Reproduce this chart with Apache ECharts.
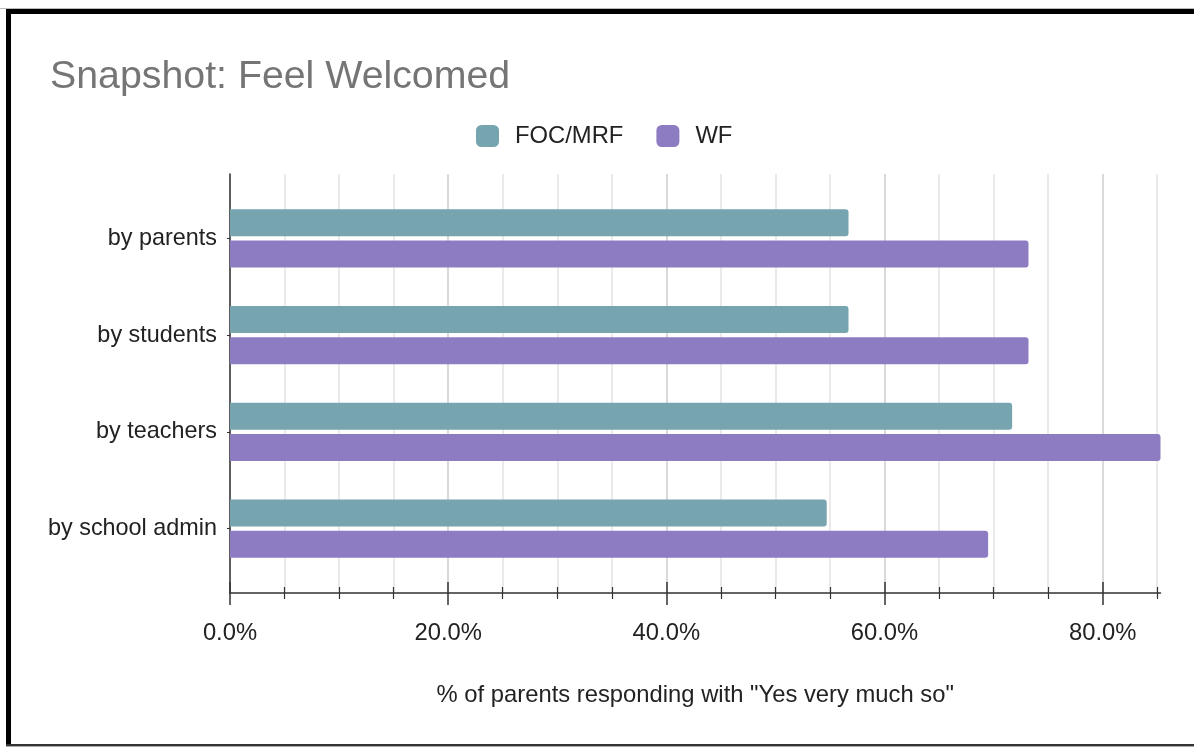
<!DOCTYPE html>
<html>
<head>
<meta charset="utf-8">
<script src="https://cdn.jsdelivr.net/npm/echarts@6/dist/echarts.min.js"></script>
<style>
html,body{margin:0;padding:0;background:#fff;}
#chart{width:1194px;height:747px;}
</style>
</head>
<body>
<div id="chart"></div>
<script>
// ---- data ----
const categories = ['by parents', 'by students', 'by teachers', 'by school admin'];
const seriesNames = ['FOC/MRF', 'WF'];
const focValues = [56.7, 56.7, 71.7, 54.7];
const wfValues = [73.2, 73.2, 85.3, 69.5];
const majorTicks = [0, 20, 40, 60, 80];
const minorTicks = [5, 10, 15, 25, 30, 35, 45, 50, 55, 65, 70, 75, 85];
const titleText = 'Snapshot: Feel Welcomed';
const axisTitle = '% of parents responding with "Yes very much so"';

const axisMax = Math.max(...focValues, ...wfValues);
const FONT = '"Liberation Sans", Arial, sans-serif';
const TXT = '#222222';
const FS = 23.8;

const chart = echarts.init(document.getElementById('chart'), null, {renderer: 'canvas'});

const gridA = {left: 230, top: 190, width: 930.5, height: 387};
const gridB = {left: 230, top: 174, width: 930.5, height: 419};

const option = {
  animation: false,
  backgroundColor: '#ffffff',
  textStyle: {fontFamily: FONT},
  title: {
    text: titleText,
    left: 45, top: 53, padding: 5,
    textStyle: {fontFamily: FONT, fontSize: 39.3, fontWeight: 'normal', color: '#757575'}
  },
  legend: {
    data: seriesNames,
    left: 476, top: 124, padding: 0,
    icon: 'roundRect',
    itemWidth: 23, itemHeight: 22,
    itemGap: 33,
    textStyle: {fontFamily: FONT, fontSize: FS, color: TXT, padding: [0, 0, 0, 11]}
  },
  grid: [
    Object.assign({containLabel: false}, gridA),
    Object.assign({containLabel: false}, gridB)
  ],
  xAxis: [
    {type: 'value', gridIndex: 0, min: 0, max: axisMax, show: false},
    {
      type: 'value', gridIndex: 1, min: 0, max: axisMax, interval: 20, position: 'bottom',
      axisLine: {show: true, lineStyle: {color: '#333', width: 1.5}},
      axisTick: {show: true, customValues: majorTicks, length: 12, lineStyle: {color: '#333', width: 1.5}},
      axisLabel: {show: true, customValues: majorTicks, margin: 28, fontSize: FS, color: TXT, fontFamily: FONT,
        formatter: v => v.toFixed(1) + '%'},
      splitLine: {show: true, lineStyle: {color: '#cccccc', width: 1.5}},
      name: axisTitle, nameLocation: 'middle', nameGap: 90,
      nameTextStyle: {fontSize: FS, color: TXT, fontFamily: FONT}
    },
    {
      type: 'value', gridIndex: 1, min: 0, max: axisMax, interval: 20, position: 'bottom',
      axisLine: {show: false},
      axisTick: {show: true, inside: true, customValues: majorTicks, length: 11, lineStyle: {color: '#333', width: 1.5}},
      axisLabel: {show: false}, splitLine: {show: false}
    },
    {
      type: 'value', gridIndex: 1, min: 0, max: axisMax, interval: 5, position: 'bottom',
      axisLine: {show: false},
      axisTick: {show: true, customValues: minorTicks, length: 6, lineStyle: {color: '#333', width: 1.2}},
      axisLabel: {show: false},
      splitLine: {show: true, lineStyle: {color: '#e3e3e3', width: 1.5}}
    },
    {
      type: 'value', gridIndex: 1, min: 0, max: axisMax, interval: 5, position: 'bottom',
      axisLine: {show: false},
      axisTick: {show: true, inside: true, customValues: minorTicks, length: 6, lineStyle: {color: '#333', width: 1.2}},
      axisLabel: {show: false}, splitLine: {show: false}
    }
  ],
  yAxis: [
    {
      type: 'category', gridIndex: 0, data: categories, inverse: true,
      axisLine: {show: false},
      axisTick: {show: true, alignWithLabel: true, length: 3, lineStyle: {color: '#333'}},
      axisLabel: {fontSize: 23.4, color: TXT, margin: 13, fontFamily: FONT},
      splitLine: {show: false}
    },
    {
      type: 'value', gridIndex: 1, min: 0, max: 1,
      axisLine: {show: true, onZero: false, lineStyle: {color: '#333', width: 1.5}},
      axisTick: {show: false}, axisLabel: {show: false}, splitLine: {show: false}
    }
  ],
  series: [
    {
      name: seriesNames[0], type: 'bar', xAxisIndex: 0, yAxisIndex: 0,
      data: focValues, barWidth: 27, barGap: '15%',
      itemStyle: {color: '#76a5af', borderRadius: [0, 3, 3, 0]}
    },
    {
      name: seriesNames[1], type: 'bar', xAxisIndex: 0, yAxisIndex: 0,
      data: wfValues, barWidth: 27, barGap: '15%',
      itemStyle: {color: '#8e7cc3', borderRadius: [0, 3, 3, 0]}
    }
  ],
  graphic: [
    {type: 'rect', shape: {x: 0, y: 8, width: 1194, height: 1}, style: {fill: '#bbbbbb'}, silent: true},
    {type: 'rect', shape: {x: 6, y: 9, width: 1188, height: 5}, style: {fill: '#000000'}, silent: true},
    {type: 'rect', shape: {x: 6, y: 9, width: 5, height: 737}, style: {fill: '#000000'}, silent: true},
    {type: 'rect', shape: {x: 6, y: 744, width: 1188, height: 2}, style: {fill: '#333333'}, silent: true},
    {type: 'rect', shape: {x: 6, y: 746, width: 1188, height: 1}, style: {fill: '#aaaaaa'}, silent: true}
  ]
};
chart.setOption(option);
</script>
</body>
</html>
